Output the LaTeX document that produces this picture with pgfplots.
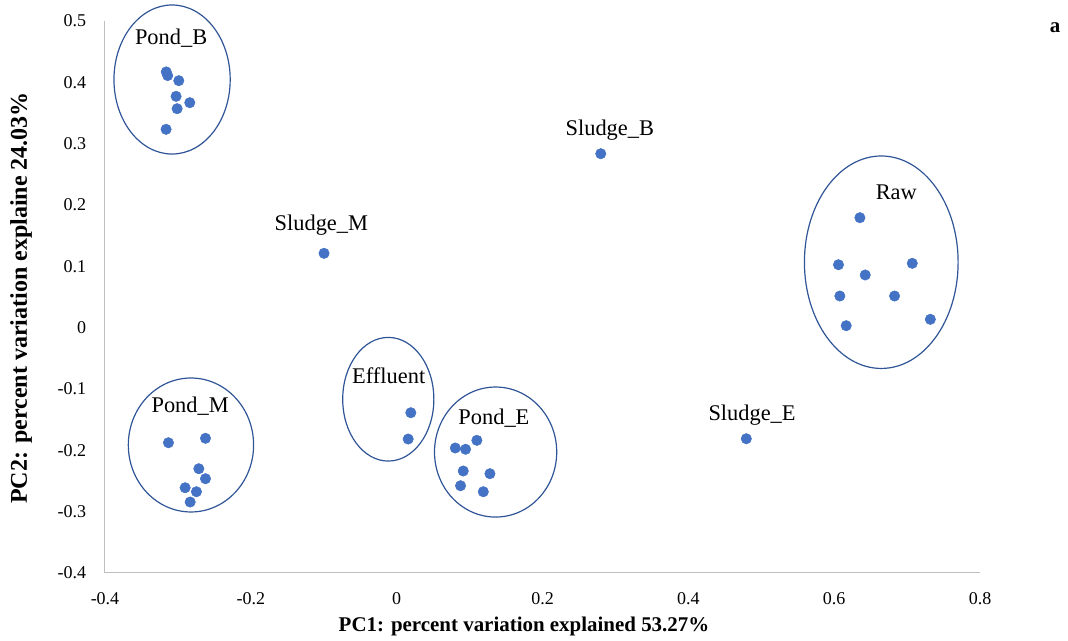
\documentclass[border=0pt]{standalone}
\usepackage{pgfplots}
\pgfplotsset{compat=1.18}
\usepackage{fontspec}
\setmainfont{Liberation Serif}

\definecolor{dotblue}{HTML}{4472C4}
\definecolor{ringblue}{HTML}{2F5597}
\definecolor{axisgray}{HTML}{BFBFBF}

\tikzset{
  grp/.style={font=\fontsize{16.8}{20}\selectfont, inner sep=0pt, anchor=center},
  ring/.style={ringblue, line width=0.9pt},
}
\pgfplotsset{
  pts/.style={only marks, mark=*, mark size=3.9pt, color=dotblue,
    mark options={draw=dotblue, fill=dotblue}},
}

\begin{document}
\begin{tikzpicture}
% page frame around the plot area
\useasboundingbox (-78.75pt,-51pt) rectangle (722.25pt,429.75pt);
\begin{axis}[
  scale only axis,
  width=656.25pt, height=414pt,
  xmin=-0.4, xmax=0.8, ymin=-0.4, ymax=0.5,
  xtick={-0.4,-0.2,0,0.2,0.4,0.6,0.8},
  ytick={-0.4,-0.3,-0.2,-0.1,0,0.1,0.2,0.3,0.4,0.5},
  axis x line=bottom, axis y line=left,
  axis line style={draw=axisgray, line width=0.75pt, -},
  tick style={draw=none}, major tick length=0pt,
  /pgf/number format/assume math mode=true,
  tick label style={font=\fontsize{13.5}{16}\selectfont, inner sep=0pt},
  xticklabel style={anchor=base, yshift=-23.5pt},
  yticklabel style={anchor=east, xshift=-14pt},
  clip=false,
]
% Pond_B
\addplot[pts] coordinates {(-0.316,0.417) (-0.314,0.411) (-0.2988,0.4027) (-0.3025,0.3772)
  (-0.2837,0.3668) (-0.3011,0.3570) (-0.3162,0.3234)};
% Pond_M
\addplot[pts] coordinates {(-0.3130,-0.1876) (-0.2622,-0.1804) (-0.2713,-0.2300) (-0.2622,-0.2463)
  (-0.2901,-0.2610) (-0.2746,-0.2675) (-0.2832,-0.2843)};
% Effluent
\addplot[pts] coordinates {(0.0194,-0.1387) (0.0158,-0.1816)};
% Pond_E
\addplot[pts] coordinates {(0.0804,-0.1962) (0.0945,-0.1983) (0.1100,-0.1837) (0.0913,-0.2337)
  (0.1279,-0.2381) (0.0876,-0.2577) (0.1188,-0.2675)};
% Raw
\addplot[pts] coordinates {(0.6353,0.1793) (0.6059,0.1026) (0.7071,0.1049) (0.6426,0.0859)
  (0.6078,0.0516) (0.6828,0.0516) (0.6165,0.0032) (0.7319,0.0136)};
% Sludge samples
\addplot[pts] coordinates {(0.2799,0.2836)};
\addplot[pts] coordinates {(-0.0996,0.1212)};
\addplot[pts] coordinates {(0.4795,-0.1811)};

% group outlines
\draw[ring] (axis cs:-0.3080,0.4046) ellipse [x radius=0.0797, y radius=0.1215];
\draw[ring] (axis cs:-0.2821,-0.1913) ellipse [x radius=0.0859, y radius=0.1092];
\draw[ring] (axis cs:-0.0115,-0.1167) ellipse [x radius=0.0625, y radius=0.1008];
\draw[ring] (axis cs:0.1357,-0.2028) ellipse [x radius=0.0838, y radius=0.1060];
\draw[ring] (axis cs:0.6646,0.1067) ellipse [x radius=0.1054, y radius=0.1732];

% group names
\node[grp] at (axis cs:-0.3093,0.4718) {Pond\_B};
\node[grp] at (axis cs:-0.2832,-0.1278) {Pond\_M};
\node[grp] at (axis cs:-0.0109,-0.0788) {Effluent};
\node[grp] at (axis cs:0.1334,-0.1478) {Pond\_E};
\node[grp] at (axis cs:0.6852,0.2200) {Raw};
\node[grp] at (axis cs:0.2923,0.3223) {Sludge\_B};
\node[grp] at (axis cs:-0.1033,0.1674) {Sludge\_M};
\node[grp] at (axis cs:0.4874,-0.1424) {Sludge\_E};
\end{axis}

% axis titles and panel letter
\node[rotate=90, anchor=base, inner sep=0pt, font=\bfseries\fontsize{18}{21}\selectfont]
  at (-58.5pt,206.25pt) {PC2: percent variation explaine 24.03\%};
\node[anchor=base, inner sep=0pt, font=\bfseries\fontsize{15.7}{18}\selectfont]
  at (314.25pt,-43.9pt) {PC1: percent variation explained 53.27\%};
\node[anchor=base, inner sep=0pt, font=\bfseries\fontsize{15.7}{18}\selectfont]
  at (712.5pt,405pt) {a};
\end{tikzpicture}
\end{document}
